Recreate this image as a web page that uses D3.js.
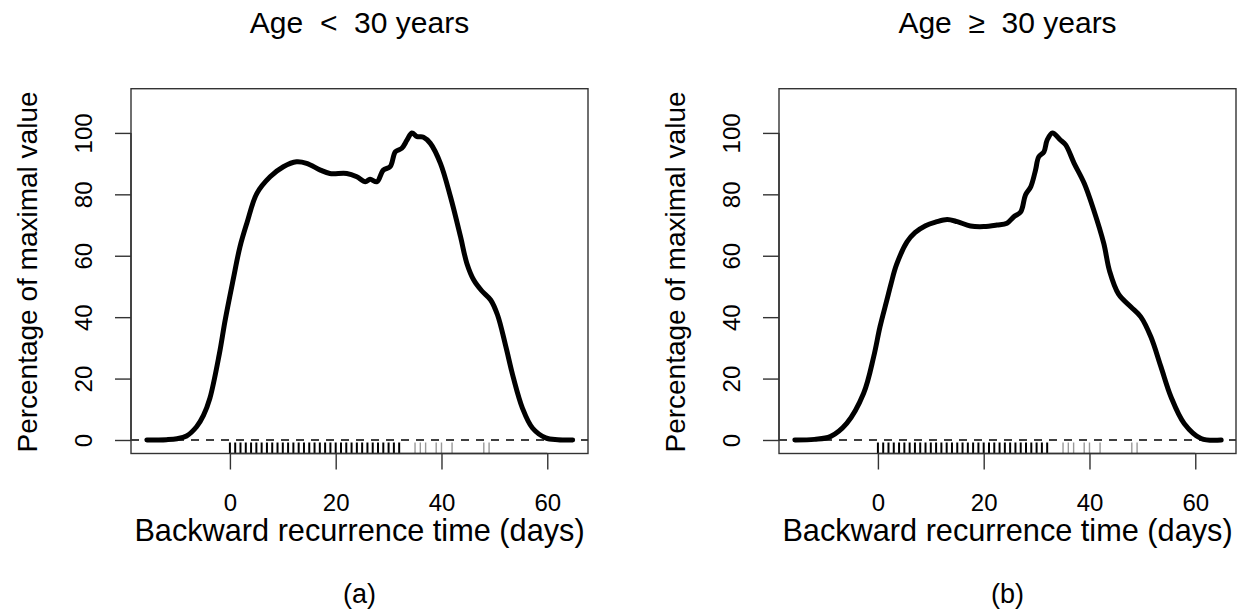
<!DOCTYPE html>
<html>
<head>
<meta charset="utf-8">
<script src="https://cdn.jsdelivr.net/npm/d3@7"></script>
<style>
  body { margin: 0; background: #fff; }
  text { font-family: "Liberation Sans", Arial, sans-serif; fill: #000; }
</style>
</head>
<body>
<svg id="chart" width="1244" height="613"></svg>
<script>
// panel (a): age < 30
var daysA = [-15.7, -12, -10, -8.2, -6.3, -5, -3.8, -2, -0.9, 0.6, 1.9, 3.2, 5.1, 7.6, 10.1, 12.6, 14.5, 17.1, 18.9, 22.1, 24.0, 25.6, 26.5, 27.8, 29.0, 30.3, 31.3, 32.5, 33.5, 34.4, 35.4, 36.6, 37.9, 39.8, 41.7, 43.6, 44.8, 46.1, 47.6, 49.3, 50.6, 52.1, 53.6, 55.3, 57.2, 59.7, 62, 64.8];
var pctA  = [0, 0.1, 0.4, 1.3, 4.3, 8, 13.5, 28, 39, 52.1, 62.9, 70.6, 80.3, 85.7, 89.0, 90.6, 90.1, 87.9, 86.8, 86.8, 85.7, 84.1, 84.9, 84.1, 87.9, 89.0, 93.9, 95.0, 97.7, 100, 98.8, 98.6, 96.6, 90.1, 79.2, 66.2, 57.5, 52.1, 48.6, 45.6, 40.7, 30.9, 20.2, 10.4, 3.9, 0.7, 0.1, 0];

// panel (b): age >= 30
var daysB = [-15.7, -12, -9.0, -5.9, -2.7, -0.8, 0.4, 1.7, 2.5, 3.5, 5.5, 7.0, 9.0, 11.0, 13.1, 15.0, 17.5, 20.0, 22.5, 24.4, 25.7, 27.0, 27.9, 28.9, 29.8, 30.4, 31.4, 32.0, 33.0, 34.5, 35.5, 37.1, 39.0, 40.8, 42.7, 43.8, 45.5, 47.8, 49.7, 51.6, 53.5, 55.4, 57.9, 61.1, 64.9];
var pctB  = [0, 0.2, 1.1, 5.4, 15.2, 27.1, 36.9, 45.6, 51, 57, 64.5, 67.5, 69.8, 71.0, 71.8, 71.1, 69.7, 69.5, 70.0, 70.6, 72.7, 74.3, 79.8, 82.5, 87.9, 92.2, 93.9, 97.7, 100, 97.7, 96.1, 90.1, 83.6, 74.9, 64.0, 55, 47.5, 43.4, 40.1, 33.6, 23.9, 14.1, 5.4, 0.5, 0];

// observed recurrence times (rug), same days in both groups
var rugDense  = [0, 1, 2, 3, 4, 5, 6, 7, 8, 9, 10, 11, 12, 13, 14, 15, 16, 17, 18, 19, 20, 21, 22, 23, 24, 25, 26, 27, 28, 29, 30, 31, 32];
var rugSparse = [35, 36, 37, 39, 40, 42, 48, 49];

var xTicks = [0, 20, 40, 60];
var yTicks = [0, 20, 40, 60, 80, 100];

var titles = ["Age  <  30 years", "Age  \u2265  30 years"];
var captions = ["(a)", "(b)"];
var xLabel = "Backward recurrence time (days)";
var yLabel = "Percentage of maximal value";

var svg = d3.select('#chart');

var panels = [
  { left: 131, days: daysA, pct: pctA },
  { left: 779, days: daysB, pct: pctB }
];

panels.forEach(function(p, i) {
  var x = d3.scaleLinear().domain([-18.7, 67.7]).range([p.left, p.left + 457]);
  var y = d3.scaleLinear().domain([-4.4, 114.4]).range([453.5, 88.7]);
  var cx = p.left + 228.5;
  var g = svg.append('g');

  // zero reference line
  g.append('line')
    .attr('x1', x.range()[0]).attr('x2', x.range()[1])
    .attr('y1', y(0)).attr('y2', y(0))
    .attr('stroke', '#000').attr('stroke-width', 1.5)
    .attr('stroke-dasharray', '8,7');

  // rug
  g.selectAll('.rugd').data(rugDense).enter().append('line')
    .attr('x1', d => x(d)).attr('x2', d => x(d))
    .attr('y1', y.range()[0]).attr('y2', y.range()[0] - 11)
    .attr('stroke', '#000').attr('stroke-width', 2);
  g.selectAll('.rugs').data(rugSparse).enter().append('line')
    .attr('x1', d => x(d)).attr('x2', d => x(d))
    .attr('y1', y.range()[0]).attr('y2', y.range()[0] - 11)
    .attr('stroke', '#999').attr('stroke-width', 1.4);

  // density curve
  var pts = p.days.map((d, k) => [d, p.pct[k]]);
  g.append('path')
    .datum(pts)
    .attr('fill', 'none')
    .attr('stroke', '#000')
    .attr('stroke-width', 5)
    .attr('stroke-linejoin', 'round')
    .attr('stroke-linecap', 'round')
    .attr('d', d3.line().x(d => x(d[0])).y(d => y(d[1])).curve(d3.curveCatmullRom.alpha(0.5)));

  // box
  g.append('rect')
    .attr('x', x.range()[0]).attr('y', y.range()[1])
    .attr('width', 457).attr('height', y.range()[0] - y.range()[1])
    .attr('fill', 'none').attr('stroke', '#333').attr('stroke-width', 1.4);

  // x axis
  var xAxis = g.append('g')
    .attr('transform', 'translate(0,' + y.range()[0] + ')')
    .call(d3.axisBottom(x).tickValues(xTicks).tickSize(16).tickSizeOuter(0));
  xAxis.select('.domain').attr('d', 'M' + x(0) + ',0H' + x(60)).attr('stroke', '#333').attr('stroke-width', 1.4);
  xAxis.selectAll('.tick line').attr('stroke', '#333').attr('stroke-width', 1.4);
  xAxis.selectAll('.tick text').attr('font-size', 24).attr('font-family', '"Liberation Sans", Arial, sans-serif').attr('fill', '#000').attr('dy', 0).attr('y', 57);

  // y axis (rotated labels, like R's default)
  var yAxis = g.append('g')
    .attr('transform', 'translate(' + x.range()[0] + ',0)')
    .call(d3.axisLeft(y).tickValues(yTicks).tickSize(16).tickSizeOuter(0));
  yAxis.select('.domain').attr('d', 'M0,' + y(0) + 'V' + y(100)).attr('stroke', '#333').attr('stroke-width', 1.4);
  yAxis.selectAll('.tick line').attr('stroke', '#333').attr('stroke-width', 1.4);
  yAxis.selectAll('.tick text')
    .attr('font-size', 24).attr('font-family', '"Liberation Sans", Arial, sans-serif').attr('fill', '#000')
    .attr('x', null).attr('dy', null)
    .attr('text-anchor', 'middle')
    .attr('transform', 'translate(-39,0) rotate(-90)');

  // titles and labels
  svg.append('text').attr('x', cx).attr('y', 33).attr('text-anchor', 'middle')
    .attr('font-size', 30).style('white-space', 'pre').text(titles[i]);
  svg.append('text').attr('x', cx).attr('y', 541).attr('text-anchor', 'middle')
    .attr('font-size', 30.7).text(xLabel);
  svg.append('text').attr('x', cx).attr('y', 603).attr('text-anchor', 'middle')
    .attr('font-size', 27).text(captions[i]);
  svg.append('text')
    .attr('transform', 'translate(' + (p.left - 94) + ',272) rotate(-90)')
    .attr('text-anchor', 'middle').attr('font-size', 28).text(yLabel);
});
</script>
</body>
</html>
